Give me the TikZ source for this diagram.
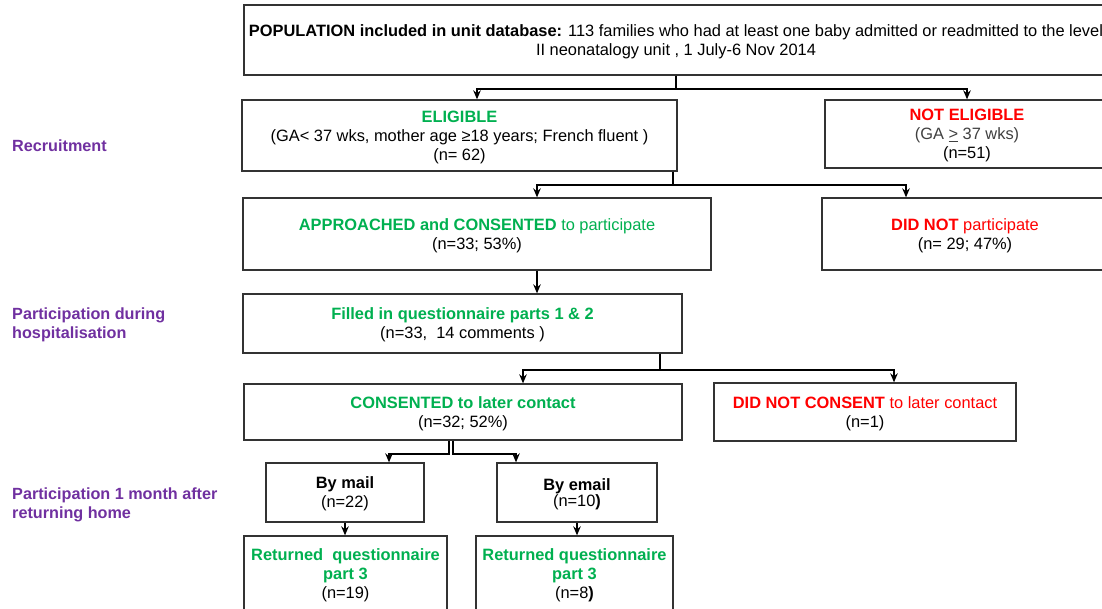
\documentclass[tikz,border=0pt]{standalone}
\usepackage{fontspec}
\setmainfont{Liberation Sans}
\usetikzlibrary{arrows.meta}
\definecolor{grn}{HTML}{00B050}
\definecolor{rd}{HTML}{FF0000}
\definecolor{purp}{HTML}{7030A0}
\definecolor{bord}{HTML}{333333}
\definecolor{gtext}{HTML}{404040}
\begin{document}
\begin{tikzpicture}[x=1pt,y=-1pt,
  box/.style={draw=bord, line width=1.3pt, fill=white, inner sep=0pt, align=center,
              text depth=-2pt, font=\fontsize{16.4}{19}\selectfont},
  arr/.style={line width=1.8pt, -{Stealth[length=9pt,width=7.5pt]}},
  lab/.style={text=purp, font=\bfseries\fontsize{16.2}{19}\selectfont, align=left,
              inner sep=0pt, anchor=west}]
\useasboundingbox (0,0) rectangle (1102,609);
\clip (0,0) rectangle (1102,609);

% boxes
\node[box, minimum width=864pt, minimum height=70pt] (pop) at (676,40)
  {\textbf{POPULATION included in unit database:} 113 families who had at least one baby admitted or readmitted to the level\\II neonatalogy unit , 1 July-6 Nov 2014};
\node[box, minimum width=435pt, minimum height=71pt] (elig) at (459.5,135.5)
  {\textcolor{grn}{\textbf{ELIGIBLE}}\\(GA< 37 wks, mother age ≥18 years; French fluent )\\(n= 62)};
\node[box, minimum width=284pt, minimum height=68pt] (nelig) at (967,134)
  {\textcolor{rd}{\textbf{NOT ELIGIBLE}}\\\textcolor{gtext}{(GA \underline{>} 37 wks)}\\(n=51)};
\node[box, minimum width=468pt, minimum height=72pt] (appr) at (477,234)
  {\textcolor{grn}{\textbf{APPROACHED and CONSENTED} to participate}\\(n=33; 53\%)};
\node[box, minimum width=286pt, minimum height=72pt] (dnp) at (965,234)
  {\textcolor{rd}{\textbf{DID NOT} participate}\\(n= 29; 47\%)};
\node[box, minimum width=439pt, minimum height=59pt] (filled) at (462.5,323.5)
  {\textcolor{grn}{\textbf{Filled in questionnaire parts 1 \& 2}}\\(n=33,\ \ 14 comments )};
\node[box, minimum width=438pt, minimum height=56pt] (cons) at (463,412)
  {\textcolor{grn}{\textbf{CONSENTED to later contact}}\\(n=32; 52\%)};
\node[box, minimum width=302pt, minimum height=58pt] (dnc) at (865,412)
  {\textcolor{rd}{\textbf{DID NOT CONSENT} to later contact}\\(n=1)};
\node[box, minimum width=158pt, minimum height=59pt] (mail) at (345,492.5)
  {\textbf{By mail}\\(n=22)};
\node[box, minimum width=160pt, minimum height=59pt] (email) at (577,492.5)
  {\textbf{By email}\\[-3pt](n=10\textbf{)}};
\node[box, minimum width=203pt, minimum height=76pt] (ret1) at (345.5,574)
  {\textcolor{grn}{\textbf{Returned\ \ questionnaire}}\\\textcolor{grn}{\textbf{part 3}}\\(n=19)};
\node[box, minimum width=197pt, minimum height=76pt] (ret2) at (574.5,574)
  {\textcolor{grn}{\textbf{Returned questionnaire}}\\\textcolor{grn}{\textbf{part 3}}\\(n=8\textbf{)}};

% side labels
\node[lab] (l1) at (12,146) {Recruitment};
\node[lab] (l2) at (12,324.5) {Participation during\\hospitalisation};
\node[lab] (l3) at (12,504.5) {Participation 1 month after\\returning home};

% connectors
\draw[arr] (pop.south) -- ++(0,13) -| ([xshift=17.5pt]elig.north);
\draw[arr] (pop.south) -- ++(0,13) -| (nelig.north);
\draw[arr] ([xshift=-5pt]elig.south east) -- ++(0,13) -| ([xshift=60pt]appr.north);
\draw[arr] ([xshift=-5pt]elig.south east) -- ++(0,13) -| ([xshift=-59pt]dnp.north);
\draw[arr] ([xshift=60pt]appr.south) -- ([xshift=60pt]appr.south |- filled.north);
\draw[arr] ([xshift=-23pt]filled.south east) -- ++(0,16) -| ([xshift=60pt]cons.north);
\draw[arr] ([xshift=-23pt]filled.south east) -- ++(0,16) -| ([xshift=29pt]dnc.north);
\draw[arr] ([xshift=-14pt]cons.south) -- ++(0,13) -| ([xshift=44pt]mail.north);
\draw[arr] ([xshift=-10pt]cons.south) -- ++(0,13) -| ([xshift=-61pt]email.north);
\draw[arr] (mail.south) -- (mail.south |- ret1.north);
\draw[arr] (email.south) -- (email.south |- ret2.north);
\end{tikzpicture}
\end{document}
